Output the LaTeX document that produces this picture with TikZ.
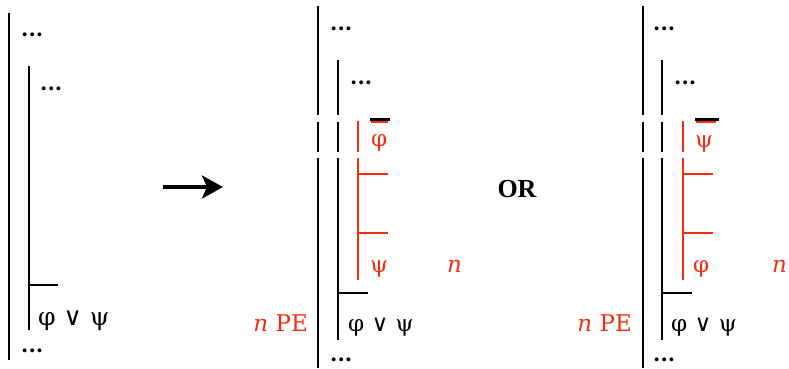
\documentclass[tikz,border=0pt]{standalone}
\usepackage{fontspec}
\setmainfont{DejaVu Serif}
\newfontfamily\orfont{Liberation Serif}
\usetikzlibrary{arrows.meta}
\definecolor{pred}{RGB}{245,45,15}
\begin{document}
\begin{tikzpicture}[x=1pt,y=-1pt,
  bar/.style={line width=2.2pt,draw=black},
  rbar/.style={line width=2.2pt,draw=pred},
  txt/.style={inner sep=0pt,anchor=base west,font=\fontsize{23}{26}\selectfont},
  rtxt/.style={txt,text=pred},
  dotsn/.style={inner sep=0pt,anchor=west,font=\bfseries\fontsize{21}{24}\selectfont},
  ortxt/.style={inner sep=0pt,font=\orfont\bfseries\fontsize{26}{30}\selectfont}]
\useasboundingbox (0,0) rectangle (789,368);

% ---------- left panel ----------
\draw[bar] (9,13) -- (9,360);
\draw[bar] (29,66) -- (29,330);
\draw[bar] (29,285) -- (58,285);
\node[dotsn] (ld1) at (21,35) {...};
\node[dotsn] (ld2) at (40,89) {...};
\node[txt,font=\fontsize{25}{28}\selectfont] (lf) at (38,325) {φ ∨ ψ};
\node[dotsn] (ld3) at (21,351) {...};

% ---------- arrow ----------
\coordinate (a1) at (163,187);
\coordinate (a2) at (223,187);
\draw[line width=3.5pt,-{Stealth[length=21pt,width=23pt,inset=5pt]}] (a1) -- (a2);

% ---------- OR ----------
\node[ortxt] (or) at (517,189) {OR};

% ---------- middle panel ----------
\draw[bar] (318,6) -- (318,115);
\draw[bar] (318,122) -- (318,152);
\draw[bar] (318,158) -- (318,368);
\draw[bar] (338,60) -- (338,115);
\draw[bar] (338,122) -- (338,152);
\draw[bar] (338,158) -- (338,340);
\draw[rbar] (358,121) -- (358,152);
\draw[rbar] (358,158) -- (358,280);
\draw[rbar] (358,174) -- (388,174);
\draw[rbar] (358,233) -- (388,233);
\draw[line width=3pt] (370,119) -- (390,119);
\draw[rbar] (371,122) -- (388,122);
\draw[bar] (338,293) -- (368,293);
\node[dotsn] (md1) at (330,29) {...};
\node[dotsn] (md2) at (350,83) {...};
\node[rtxt] (mphi) at (371,146) {φ};
\node[rtxt] (mpsi) at (370,272) {ψ};
\node[rtxt] (mn) at (447,272) {\itshape n};
\node[txt] (mf) at (348,331) {φ ∨ ψ};
\node[rtxt,anchor=base east] (mpe) at (308,331) {\itshape n\upshape{} PE};
\node[dotsn] (md3) at (330,360) {...};

% ---------- right panel ----------
\draw[bar] (643,6) -- (643,115);
\draw[bar] (643,122) -- (643,152);
\draw[bar] (643,158) -- (643,368);
\draw[bar] (662,60) -- (662,115);
\draw[bar] (662,122) -- (662,152);
\draw[bar] (662,158) -- (662,340);
\draw[rbar] (683,121) -- (683,152);
\draw[rbar] (683,158) -- (683,280);
\draw[rbar] (683,174) -- (713,174);
\draw[rbar] (683,233) -- (713,233);
\draw[line width=3pt] (695,119) -- (719,119);
\draw[rbar] (696,122) -- (716,122);
\draw[bar] (662,293) -- (692,293);
\node[dotsn] (rd1) at (653,29) {...};
\node[dotsn] (rd2) at (674,83) {...};
\node[rtxt] (rpsi) at (695,147) {ψ};
\node[rtxt] (rphi) at (693,272) {φ};
\node[rtxt] (rn) at (772,272) {\itshape n};
\node[txt] (rf) at (671,331) {φ ∨ ψ};
\node[rtxt,anchor=base east] (rpe) at (632,331) {\itshape n\upshape{} PE};
\node[dotsn] (rd3) at (653,360) {...};
\end{tikzpicture}
\end{document}
